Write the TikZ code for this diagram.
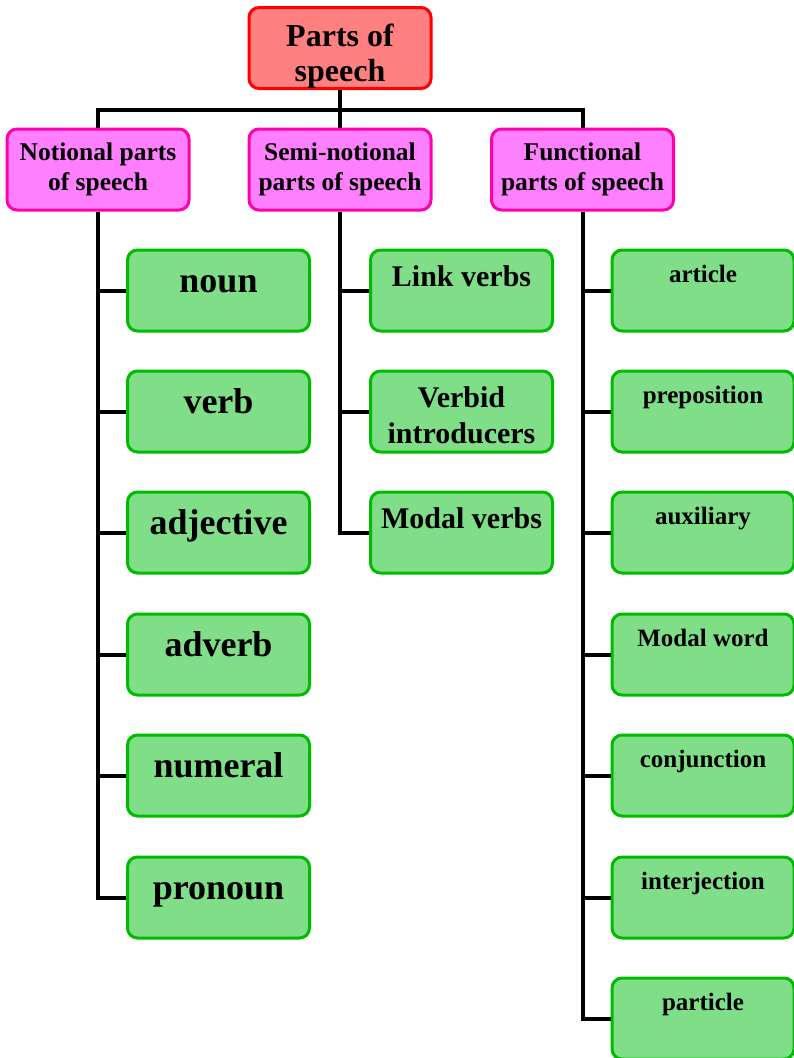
\documentclass[tikz,border=0pt]{standalone}
\usepackage{fontspec}
\setmainfont{Liberation Serif}
\definecolor{rootfill}{RGB}{255,128,128}
\definecolor{rootedge}{RGB}{255,0,0}
\definecolor{groupfill}{RGB}{255,128,255}
\definecolor{groupedge}{RGB}{255,0,170}
\definecolor{itemfill}{RGB}{128,222,136}
\definecolor{itemedge}{RGB}{0,187,0}
% two centred lines, baseline on the first one
\newcommand\twoline[2]{\begin{tabular}[t]{@{}c@{}}#1\\#2\end{tabular}}
\tikzset{
  box/.style={draw, rounded corners=10pt, line width=3pt, inner sep=0pt,
    minimum width=182pt, text centered},
  rootbox/.style={box, fill=rootfill, draw=rootedge, text height=39pt, text depth=42pt,
    font=\fontsize{32}{35}\selectfont\bfseries},
  groupbox/.style={box, fill=groupfill, draw=groupedge, text height=31pt, text depth=50pt,
    font=\fontsize{25.5}{30}\selectfont\bfseries},
  bigitem/.style={box, fill=itemfill, draw=itemedge, text height=42pt, text depth=39pt,
    font=\fontsize{36}{40}\selectfont\bfseries},
  miditem/.style={box, fill=itemfill, draw=itemedge, text height=36pt, text depth=45pt,
    font=\fontsize{30}{36}\selectfont\bfseries},
  smallitem/.style={box, fill=itemfill, draw=itemedge, text height=32pt, text depth=49pt,
    font=\fontsize{25}{30}\selectfont\bfseries},
  link/.style={line width=4pt, draw=black},
}
\begin{document}
\begin{tikzpicture}[x=1pt, y=-1pt]
\useasboundingbox (0,0) rectangle (794,1058);
\clip (0,0) rectangle (794,1058);

% junction where the top line meets the bar
\coordinate (bar) at (340,110);

% root
\node[rootbox] (root) at (340,48) {\twoline{Parts of}{speech}};

% groups
\node[groupbox] (notional) at (98,169.5) {\twoline{Notional parts}{of speech}};
\node[groupbox] (semi) at (340,169.5) {\twoline{Semi-notional}{parts of speech}};
\node[groupbox] (functional) at (582.5,169.5) {\twoline{Functional}{parts of speech}};

% notional items
\node[bigitem] (noun) at (218.5,290.5) {noun};
\node[bigitem] (verb) at (218.5,411.5) {verb};
\node[bigitem] (adjective) at (218.5,532.5) {adjective};
\node[bigitem] (adverb) at (218.5,654.5) {adverb};
\node[bigitem] (numeral) at (218.5,775.5) {numeral};
\node[bigitem] (pronoun) at (218.5,897.5) {pronoun};

% semi-notional items
\node[miditem] (link) at (461.5,290.5) {Link verbs};
\node[miditem] (verbid) at (461.5,411.5) {\twoline{Verbid}{introducers}};
\node[miditem] (modalverbs) at (461.5,532.5) {Modal verbs};

% functional items
\node[smallitem] (article) at (703,290.5) {article};
\node[smallitem] (preposition) at (703,411.5) {preposition};
\node[smallitem] (auxiliary) at (703,532.5) {auxiliary};
\node[smallitem] (modalword) at (703,654.5) {Modal word};
\node[smallitem] (conjunction) at (703,775.5) {conjunction};
\node[smallitem] (interjection) at (703,897.5) {interjection};
\node[smallitem] (particle) at (703,1018.5) {particle};

% connectors
\draw[link] (root.south) -- (semi.north);
\draw[link] (notional.north) |- (bar) -| (functional.north);

\draw[link] (notional.south) |- (pronoun.west);
\foreach \n in {noun,verb,adjective,adverb,numeral}
  \draw[link] (notional.south |- \n.west) -- (\n.west);

\draw[link] (semi.south) |- (modalverbs.west);
\foreach \n in {link,verbid}
  \draw[link] (semi.south |- \n.west) -- (\n.west);

\draw[link] (functional.south) |- (particle.west);
\foreach \n in {article,preposition,auxiliary,modalword,conjunction,interjection}
  \draw[link] (functional.south |- \n.west) -- (\n.west);
\end{tikzpicture}
\end{document}
